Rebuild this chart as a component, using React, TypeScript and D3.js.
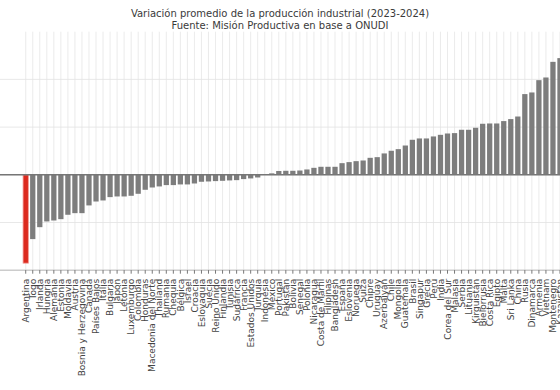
import React from "react";
import * as d3 from "d3";

const countries = [
  "Argentina", "Togo", "Irlanda", "Hungría", "Alemania", "Estonia", "Moldavia", "Austria",
  "Bosnia y Herzegovina", "Canadá", "Países Bajos", "Italia", "Bulgaria", "Japón", "Letonia",
  "Luxemburgo", "Colombia", "Honduras", "Macedonia del Norte", "Thailand", "Rumania", "Chequia",
  "Bélgica", "Israel", "Croacia", "Eslovaquia", "Suecia", "Reino Unido", "Finlandia", "Tunisia",
  "Sudáfrica", "Francia", "Estados Unidos", "Turquía", "Indonesia", "México", "Portugal",
  "Pakistán", "Bolivia", "Senegal", "Polonia", "Nicaragua", "Costa de Marfil", "Filipinas",
  "Bangladesh", "España", "Eslovenia", "Noruega", "Suiza", "Chipre", "Uruguay", "Azerbaiyán",
  "Chile", "Mongolia", "Guatemala", "Brasil", "Singapur", "Grecia", "Perú", "India",
  "Corea del Sur", "Malasia", "Serbia", "Lituania", "Kirguistán", "Bielorrusia", "Costa Rica",
  "Egipto", "Malta", "Sri Lanka", "China", "Rusia", "Dinamarca", "Armenia", "Vietnam",
  "Montenegro", "Kazajistán",
];

const values = [
  -9.26, -6.74, -5.49, -4.89, -4.79, -4.65, -4.19, -4.02,
  -4.02, -3.21, -2.8, -2.69, -2.34, -2.27, -2.27,
  -2.2, -1.99, -1.57, -1.33, -1.22, -1.08, -1.08,
  -1.01, -1.01, -0.91, -0.73, -0.7, -0.66, -0.63, -0.59,
  -0.56, -0.45, -0.38, -0.28, 0.03, 0.15, 0.4,
  0.42, 0.42, 0.45, 0.56, 0.73, 0.84, 0.84,
  0.84, 1.22, 1.33, 1.43, 1.5, 1.78, 1.85, 2.24,
  2.52, 2.69, 3.07, 3.67, 3.81, 3.81, 4.02, 4.19,
  4.33, 4.37, 4.72, 4.72, 4.93, 5.35, 5.38,
  5.38, 5.63, 5.84, 6.11, 8.46, 8.63, 9.92, 10.2,
  11.84, 12.23,
];

const yTicks = [-10, -5, 0, 5, 10];
const highlight = "Argentina";
const titleLines = [
  "Variación promedio de la producción industrial (2023-2024)",
  "Fuente: Misión Productiva en base a ONUDI",
];

export default function App() {
  const W = 560;
  const H = 390;
  const x = d3
    .scaleBand<string>()
    .domain(countries)
    .range([22.2, 563.5])
    .paddingInner(0.25)
    .paddingOuter(0.125);
  const y = d3.scaleLinear().domain([-10, 15]).range([270.2, 31.7]);
  const font = "'DejaVu Sans', sans-serif";
  const bw = x.bandwidth();

  return (
    <svg
      width={W}
      height={H}
      style={{ position: "absolute", left: 0, top: 0, background: "#fff" }}
      fontFamily={font}
    >
      <rect x={0} y={0} width={W} height={H} fill="#fff" />
      {countries.map((c) => {
        const cx = (x(c) as number) + bw / 2;
        return (
          <line key={"vg" + c} x1={cx} x2={cx} y1={y(15)} y2={y(-10)} stroke="#e6e6e6" strokeWidth={0.8} />
        );
      })}
      {yTicks.map((t) => (
        <line key={"hg" + t} x1={0} x2={W} y1={y(t)} y2={y(t)} stroke="#e2e2e2" strokeWidth={0.8} />
      ))}
      {countries.map((c, i) => {
        const v = values[i];
        const isH = c === highlight;
        return (
          <rect
            key={"b" + c}
            x={x(c)}
            width={bw}
            y={y(Math.max(0, v))}
            height={Math.abs(y(v) - y(0))}
            fill={isH ? "#dc2a1e" : "#7d7d7d"}
            stroke={isH ? "#f29a94" : "none"}
            strokeWidth={isH ? 0.8 : 0}
          />
        );
      })}
      <line x1={0} x2={W} y1={y(0)} y2={y(0)} stroke="#767676" strokeWidth={1.4} />
      <line x1={0} x2={W} y1={y(-10)} y2={y(-10)} stroke="#b0b0b0" strokeWidth={0.8} />
      {countries.map((c) => {
        const cx = (x(c) as number) + bw / 2;
        return (
          <g key={"t" + c}>
            <line x1={cx} x2={cx} y1={y(-10)} y2={y(-10) + 3.5} stroke="#555" strokeWidth={0.8} />
            <text
              transform={`translate(${cx},${y(-10) + 8.5}) rotate(-90)`}
              textAnchor="end"
              dy="0.35em"
              fontSize={9}
              fill="#444"
            >
              {c}
            </text>
          </g>
        );
      })}
      {titleLines.map((t, i) => (
        <text key={"ti" + i} x={280} y={17.3 + i * 12} textAnchor="middle" fontSize={10} fill="#3a3a3a">
          {t}
        </text>
      ))}
    </svg>
  );
}
